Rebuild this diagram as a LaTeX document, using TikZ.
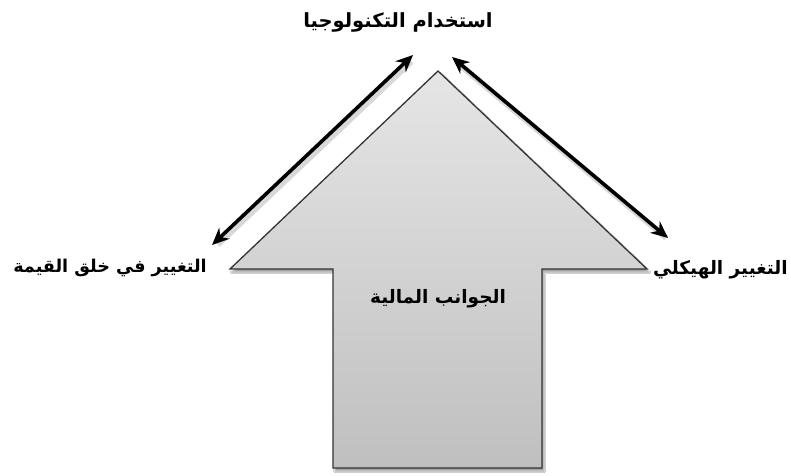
\documentclass[tikz,border=0pt]{standalone}
\usepackage{fontspec}
\newfontfamily\arabicfont[Script=Arabic]{DejaVu Sans}
\TeXXeTstate=1
\usetikzlibrary{arrows.meta,shadows.blur}
\tikzset{
  lbl/.style={font=\arabicfont\bfseries\fontsize{18.5}{22}\selectfont, inner sep=0pt},
  dbl/.style={line width=3.6pt, {Stealth[length=17pt,width=15pt]}-{Stealth[length=17pt,width=15pt]}},
  dblshadow/.style={line width=6pt, black!30, opacity=0.5, shorten <=5pt, shorten >=5pt},
  bigarrow/.style={draw=black!80, line width=1.3pt, top color=gray!20, bottom color=gray!50,
    blur shadow={shadow xshift=2pt, shadow yshift=-3pt, shadow blur steps=6}}
}
\begin{document}
\begin{tikzpicture}[x=1pt,y=-1pt]
\useasboundingbox (0,0) rectangle (791,475);
\fill[white] (0,0) rectangle (791,475);
% big up arrow
\path[bigarrow] (438,71) -- (647,269) -- (542,269) -- (542,468) -- (333,468) -- (333,269) -- (230,269) -- cycle;
% labels
\node[lbl, font=\arabicfont\bfseries\fontsize{19.5}{23}\selectfont] (top) at (398,22) {\beginR استخدام التكنولوجيا\endR};
\node[lbl, anchor=east, font=\arabicfont\bfseries\fontsize{17.6}{21}\selectfont] (left) at (207,268) {\beginR التغيير في خلق القيمة\endR};
\node[lbl, anchor=west] (right) at (653,270) {\beginR التغيير الهيكلي\endR};
\node[lbl] (mid) at (438,299) {\beginR الجوانب المالية\endR};
% connector ends
\coordinate (lt) at (413,55);
\coordinate (lb) at (212,245);
\coordinate (rt) at (452,57);
\coordinate (rb) at (668,238);
\draw[dblshadow] ([shift={(2,3)}]lt) -- ([shift={(2,3)}]lb);
\draw[dblshadow] ([shift={(2,3)}]rt) -- ([shift={(2,3)}]rb);
\draw[dbl] (lb) -- (lt);
\draw[dbl] (rb) -- (rt);
\end{tikzpicture}
\end{document}
